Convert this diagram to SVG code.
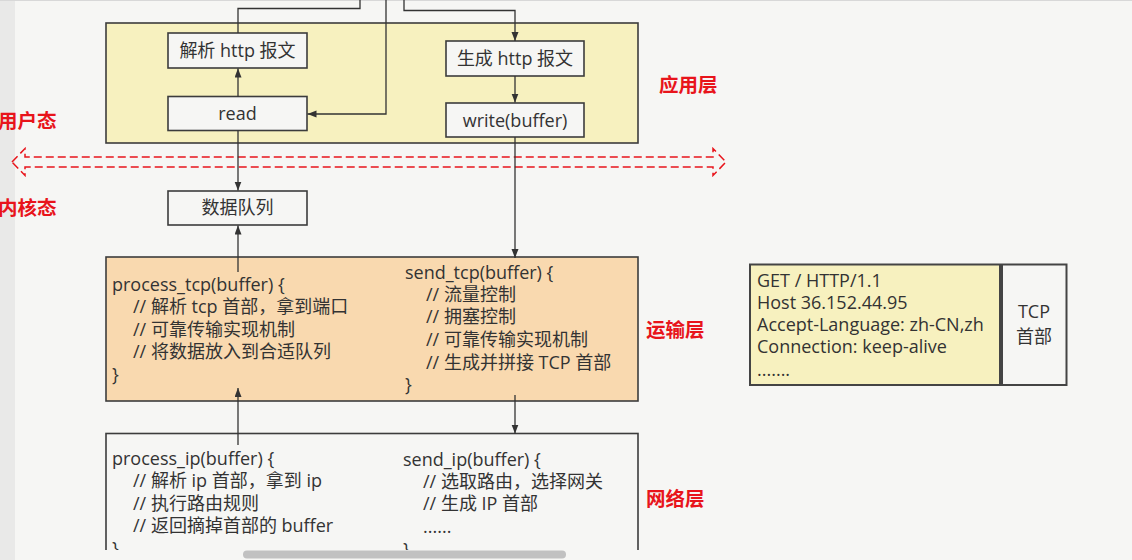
<svg xmlns="http://www.w3.org/2000/svg" width="1132" height="560" viewBox="0 0 1132 560">
<defs>
<style>
.t{font-family:"Open Sans","Noto Sans CJK SC",sans-serif;font-size:18px;fill:#333}
.c{text-anchor:middle}
.lbl{font-family:"Noto Sans CJK SC",sans-serif;font-size:19.5px;font-weight:bold;fill:#e8141b}
.box{fill:#f6f6f4;stroke:#3c3c3c;stroke-width:1.6}
.ln{fill:none;stroke:#333;stroke-width:1.3}
.arr{marker-end:url(#ah)}
</style>
<marker id="ah" markerUnits="userSpaceOnUse" markerWidth="10" markerHeight="8" refX="9" refY="3.5" orient="auto">
<path d="M0,0 L9,3.5 L0,7 z" fill="#333"/>
</marker>
<clipPath id="vis"><rect x="0" y="0" width="1132" height="550"/></clipPath>
</defs>
<rect width="1132" height="560" fill="#f6f6f4"/>
<rect x="0" y="0" width="15" height="560" fill="#e9e9e8"/>
<line x1="0" y1="0.5" x2="1132" y2="0.5" stroke="#d8d8d8"/>

<g id="app-layer">
<rect x="106" y="23" width="532" height="120" fill="#f7f1bf" stroke="#3c3c3c" stroke-width="1.6"/>
</g>
<g id="parse-http">
<rect class="box" x="168" y="33" width="139" height="35"/>
<text class="t c" x="237.5" y="57">解析 http 报文</text>
</g>
<g id="read">
<rect class="box" x="168" y="96.5" width="139" height="34"/>
<text class="t c" x="237.5" y="120">read</text>
</g>
<g id="gen-http">
<rect class="box" x="446" y="41" width="138" height="35"/>
<text class="t c" x="515" y="65">生成 http 报文</text>
</g>
<g id="write">
<rect class="box" x="446" y="103" width="138" height="34"/>
<text class="t c" x="515" y="127">write(buffer)</text>
</g>
<g id="data-queue">
<rect class="box" x="168" y="191" width="139" height="34"/>
<text class="t c" x="237.5" y="214">数据队列</text>
</g>

<g id="boundary">
<path d="M12,162 L25,148.5 L25,157 L713,157 L713,148.5 L726,162 L713,175.5 L713,167 L25,167 L25,175.5 Z" fill="none" stroke="#e8141b" stroke-width="1.5" stroke-dasharray="8,4"/>
<text class="lbl" x="-2" y="128">用户态</text>
<text class="lbl" x="-2" y="215">内核态</text>
<text class="lbl" x="659" y="92">应用层</text>
</g>

<g id="transport-layer">
<rect x="106" y="257" width="532" height="144" fill="#f9d9af" stroke="#3c3c3c" stroke-width="1.6"/>
<text class="t" x="112" y="291">process_tcp(buffer) {</text>
<text class="t" x="133" y="313">// 解析 tcp 首部，拿到端口</text>
<text class="t" x="133" y="336">// 可靠传输实现机制</text>
<text class="t" x="133" y="358">// 将数据放入到合适队列</text>
<text class="t" x="112" y="381">}</text>
<text class="t" x="405" y="279">send_tcp(buffer) {</text>
<text class="t" x="426" y="301">// 流量控制</text>
<text class="t" x="426" y="323">// 拥塞控制</text>
<text class="t" x="426" y="346">// 可靠传输实现机制</text>
<text class="t" x="426" y="369">// 生成并拼接 TCP 首部</text>
<text class="t" x="405" y="391">}</text>
<text class="lbl" x="646" y="337">运输层</text>
</g>

<g id="network-layer" clip-path="url(#vis)">
<rect x="106" y="433.5" width="532" height="160" fill="#f6f6f4" stroke="#3c3c3c" stroke-width="1.6"/>
<text class="t" x="112" y="465">process_ip(buffer) {</text>
<text class="t" x="133" y="487">// 解析 ip 首部，拿到 ip</text>
<text class="t" x="133" y="510">// 执行路由规则</text>
<text class="t" x="133" y="532">// 返回摘掉首部的 buffer</text>
<text class="t" x="112" y="555">}</text>
<text class="t" x="403" y="466">send_ip(buffer) {</text>
<text class="t" x="423" y="488">// 选取路由，选择网关</text>
<text class="t" x="423" y="510">// 生成 IP 首部</text>
<text class="t" x="423" y="533">......</text>
<text class="t" x="403" y="556">}</text>
</g>
<text class="lbl" x="646" y="506">网络层</text>

<g id="connectors">
<path class="ln" d="M360,0 V8.5 H238 V33"/>
<path class="ln arr" d="M386,0 V114 H307.5"/>
<path class="ln arr" d="M404,0 V10.5 H515 V41"/>
<path class="ln arr" d="M238,96.5 V68.5"/>
<path class="ln arr" d="M515,76 V102.5"/>
<path class="ln arr" d="M238,130.5 V190.5"/>
<path class="ln arr" d="M238,272 V225.5"/>
<path class="ln arr" d="M515,137 V258"/>
<path class="ln arr" d="M238,445 V388"/>
<path class="ln arr" d="M515,395 V433.5"/>
</g>

<g id="http-packet">
<rect x="750" y="264.5" width="250" height="120.5" fill="#f7f1bf" stroke="#444" stroke-width="2"/>
<text class="t" x="757" y="287">GET / HTTP/1.1</text>
<text class="t" x="757" y="309">Host 36.152.44.95</text>
<text class="t" x="757" y="331">Accept-Language: zh-CN,zh</text>
<text class="t" x="757" y="353">Connection: keep-alive</text>
<text class="t" x="757" y="376">.......</text>
</g>
<g id="tcp-header">
<rect x="1002" y="264.5" width="64.5" height="120.5" fill="#f6f6f4" stroke="#444" stroke-width="2"/>
<text class="t c" x="1034" y="318">TCP</text>
<text class="t c" x="1034" y="343">首部</text>
</g>

<rect x="243" y="550.5" width="323" height="8" rx="4" fill="#c1c1c1"/>
</svg>
